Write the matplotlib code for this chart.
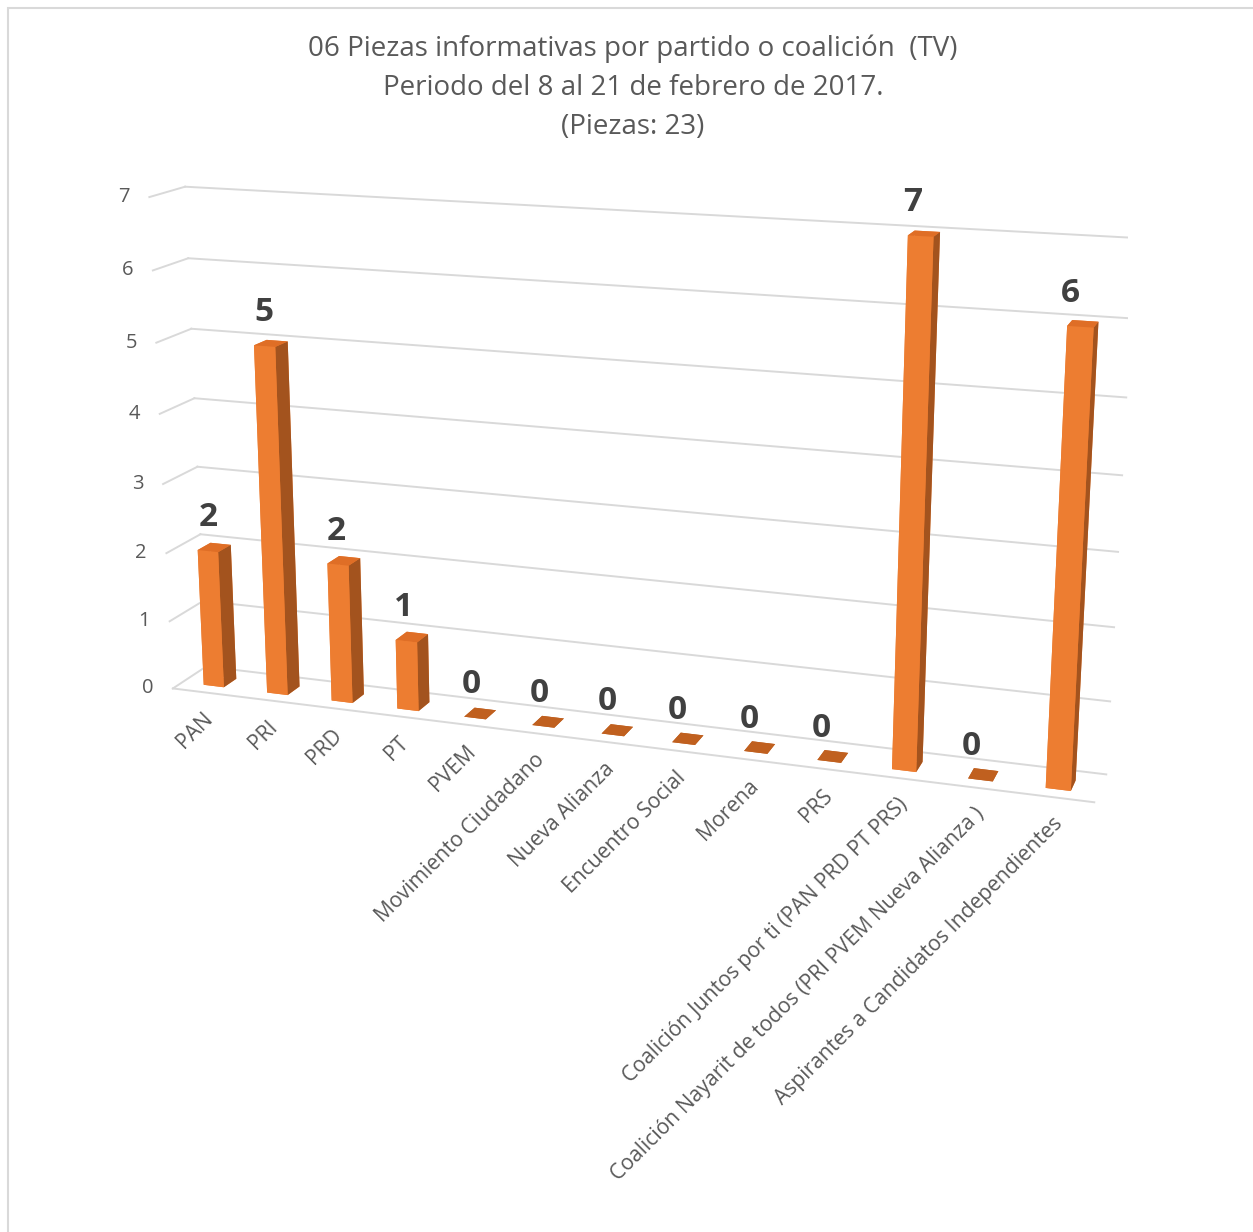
import matplotlib
matplotlib.use("Agg")
import matplotlib.pyplot as plt
import numpy as np
from matplotlib.patches import Rectangle
from mpl_toolkits.mplot3d import proj3d

# -------------------------
# DATA
# -------------------------
categories = [
    "PAN", "PRI", "PRD", "PT", "PVEM", "Movimiento Ciudadano", "Nueva Alianza",
    "Encuentro Social", "Morena", "PRS",
    "Coalición Juntos por ti (PAN PRD PT PRS)",
    "Coalición Nayarit de todos (PRI PVEM Nueva Alianza )",
    "Aspirantes a Candidatos Independientes",
]
piezas = [2, 5, 2, 1, 0, 0, 0, 0, 0, 0, 7, 0, 6]
value_ticks = [0, 1, 2, 3, 4, 5, 6, 7]
title_lines = [
    "06 Piezas informativas por partido o coalición  (TV)",
    "Periodo del 8 al 21 de febrero de 2017.",
    "(Piezas: 23)",
]

# -------------------------
# STYLE
# -------------------------
plt.rcParams["font.family"] = ["Open Sans", "DejaVu Sans"]
text_col = "#595959"
grid_col = "#D9D9D9"
front_col = "#ED7D31"
top_col = "#DF6E26"
side_col = "#A3531E"
flat_col = "#C0601F"

W, H = 1253, 1232
fig = plt.figure(figsize=(W / 100, H / 100), dpi=100)

ax = fig.add_axes([-0.018, 0.174, 1.0, 0.85], projection="3d")
ax.set_proj_type("persp", focal_length=0.45)
ax.view_init(elev=15, azim=-71)
ax.set_box_aspect((13, 1.0, 7), zoom=1.04)
ax.computed_zorder = False
ax.set_axis_off()

n = len(categories)
xmin, xmax = -0.5, n - 0.5
zmax = value_ticks[-1]
ax.set_xlim(xmin, xmax)
ax.set_ylim(0, 1)
ax.set_zlim(0, zmax)


def to2d(x, y, z):
    x2, y2, _ = proj3d.proj_transform(x, y, z, ax.get_proj())
    return x2, y2


# walls: gridlines on back wall and left side wall
for z in value_ticks:
    ax.plot([xmin, xmax], [1, 1], [z, z], color=grid_col, lw=1.4, zorder=1)
    ax.plot([xmin, xmin], [0, 1], [z, z], color=grid_col, lw=1.4, zorder=1)
    ax.annotate(str(z), xy=to2d(xmin, 0, z), xytext=(-14, 0),
                textcoords="offset points", ha="right", va="center",
                fontsize=14.5, color=text_col, zorder=3)
# front edge of the floor
ax.plot([xmin, xmax], [0, 0], [0, 0], color=grid_col, lw=1.4, zorder=1)

# bars
xpos = np.arange(n)
bar_w = 0.32
bar_d = 0.38
y0 = 0.28
face_cols = []
for v in piezas:
    if v > 0:
        # -z, +z, -y, +y, -x, +x
        face_cols += [front_col, top_col, front_col, front_col, front_col, side_col]
    else:
        face_cols += [flat_col] * 6
ax.bar3d(xpos - bar_w / 2, np.full(n, y0), np.zeros(n), bar_w, bar_d, piezas,
         color=face_cols, shade=False, zorder=2)

# value labels
for i, v in enumerate(piezas):
    ax.annotate(str(v), xy=to2d(i, y0, v), xytext=(-0.6 * i, 24),
                textcoords="offset points", ha="center", va="center",
                fontsize=24, fontweight="bold", color="#404040", zorder=4)

# category labels
for i, lab in enumerate(categories):
    ax.annotate(lab, xy=to2d(i, 0, 0), xytext=(4, -17),
                textcoords="offset points", rotation=45, rotation_mode="anchor",
                ha="right", va="center", fontsize=15.2, color=text_col, zorder=3)

# title
for k, line in enumerate(title_lines):
    fig.text(0.505, 1 - (49 + 39 * k) / H, line, ha="center", va="center",
             fontsize=20, color=text_col)

# chart border
fig.patches.append(Rectangle((8 / W, -0.1), 1.2, 1 - 8 / H + 0.1,
                             transform=fig.transFigure, fill=False,
                             edgecolor=grid_col, lw=1.5))

fig.savefig("out.png", dpi=100)
